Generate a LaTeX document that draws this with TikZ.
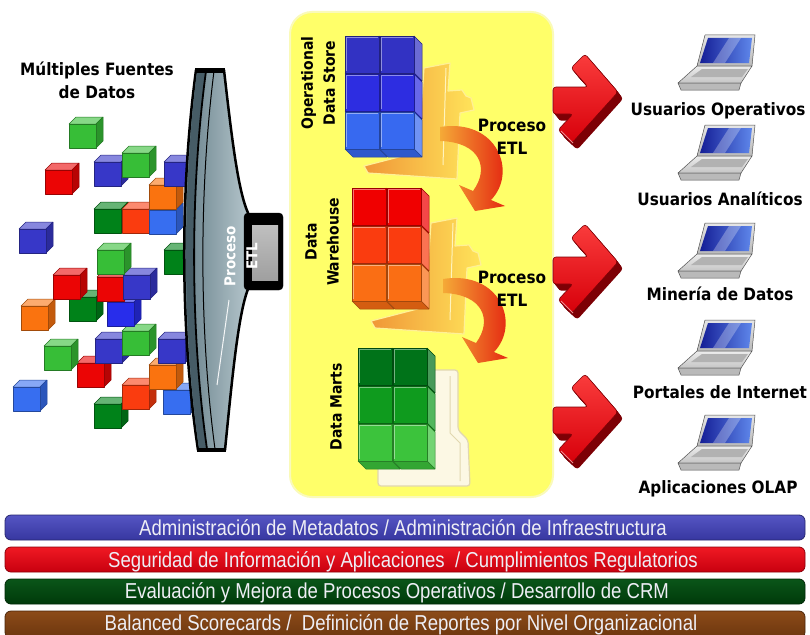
\documentclass[tikz,border=0pt]{standalone}
\usepackage{fontspec}
\newfontfamily\lblfont[FakeStretch=0.9]{DejaVu Sans}
\newfontfamily\barfont[FakeStretch=0.86]{Liberation Sans}

% source cubes
\definecolor{cgreen}{RGB}{55,190,55}
\definecolor{cdkgreen}{RGB}{0,130,25}
\definecolor{cred}{RGB}{235,5,5}
\definecolor{credor}{RGB}{250,60,15}
\definecolor{corange}{RGB}{250,115,15}
\definecolor{cblue}{RGB}{55,55,200}
\definecolor{cltblue}{RGB}{55,110,240}
\definecolor{cbrblue}{RGB}{40,45,235}
% stacked stores
\definecolor{odsA}{RGB}{50,50,195}
\definecolor{odsB}{RGB}{45,45,225}
\definecolor{odsC}{RGB}{55,105,240}
\definecolor{dwA}{RGB}{240,0,0}
\definecolor{dwB}{RGB}{250,60,15}
\definecolor{dwC}{RGB}{250,110,20}
\definecolor{dmA}{RGB}{0,115,25}
\definecolor{dmB}{RGB}{15,155,30}
\definecolor{dmC}{RGB}{60,195,60}
% panel, funnel, folders
\definecolor{panelyellow}{RGB}{255,255,105}
\definecolor{paneledge}{RGB}{250,250,185}
\definecolor{funnelA}{RGB}{100,125,135}
\definecolor{funnelB}{RGB}{180,197,203}
\definecolor{funnelC}{RGB}{70,92,102}
\definecolor{foldL}{RGB}{240,150,55}
\definecolor{foldR}{RGB}{255,228,90}
\definecolor{foldedge}{RGB}{255,240,150}
\definecolor{cream}{RGB}{252,248,228}
\definecolor{creamedge}{RGB}{225,215,175}
\definecolor{arcL}{RGB}{245,170,55}
\definecolor{arcR}{RGB}{225,15,10}
% big arrows
\definecolor{arrowred}{RGB}{215,0,10}
\definecolor{arrowdark}{RGB}{125,0,5}
\definecolor{arrowlight}{RGB}{250,60,60}
% bars
\definecolor{barblueT}{RGB}{85,85,195}
\definecolor{barblueB}{RGB}{55,55,160}
\definecolor{barredT}{RGB}{240,25,35}
\definecolor{barredB}{RGB}{200,0,15}
\definecolor{bargreenT}{RGB}{10,85,25}
\definecolor{bargreenB}{RGB}{0,58,10}
\definecolor{barbrownT}{RGB}{140,75,25}
\definecolor{barbrownB}{RGB}{108,54,14}
\definecolor{bartext}{RGB}{238,238,245}
% laptops
\definecolor{screenA}{RGB}{20,30,150}
\definecolor{screenB}{RGB}{95,135,235}

\tikzset{
  cubeedge/.style={draw=#1!65!black, line width=0.5pt, line join=round},
  lbl/.style={font=\lblfont\bfseries\fontsize{17}{23}\selectfont, align=center, inner sep=0pt, text=black},
  vlbl/.style={font=\lblfont\bfseries\fontsize{15.5}{22}\selectfont, align=center, inner sep=0pt, rotate=90, text=black},
  funtxt/.style={font=\lblfont\bfseries\fontsize{15}{22}\selectfont, align=center, inner sep=0pt, rotate=90, text=white},
  barbox/.style={rounded corners=6, line width=0.8pt},
  bartxt/.style={text=bartext, font=\barfont\fontsize{21.6}{23}\selectfont, inner sep=0pt, anchor=base},
  folderstyle/.style={left color=foldL, right color=foldR, draw=foldedge, line width=1.2pt, line join=round},
  arcstyle/.style={left color=arcL, right color=arcR},
}

% one scattered source cube: top-left corner of its outline at (#1,#2)
\newcommand{\srccube}[3]{%
  \filldraw[cubeedge=#3, fill=#3!60!white] (#1,#2+7) -- (#1+7,#2) -- (#1+34,#2) -- (#1+27,#2+7) -- cycle;
  \filldraw[cubeedge=#3, fill=#3!78!black] (#1+27,#2+7) -- (#1+34,#2) -- (#1+34,#2+24) -- (#1+27,#2+31) -- cycle;
  \filldraw[cubeedge=#3, fill=#3] (#1,#2+7) rectangle (#1+27,#2+31);
}

% a 2x3 block of cubes, one colour per row
\newcommand{\stackcubes}[5]{%
  \foreach \c [count=\j from 0] in {#3,#4,#5}{%
    \foreach \i in {0,1}{%
      \filldraw[cubeedge=\c, fill=\c!72!white] (#1+35*\i+34,#2+38*\j) -- (#1+35*\i+42,#2+38*\j+8) -- (#1+35*\i+42,#2+38*\j+45) -- (#1+35*\i+34,#2+38*\j+37) -- cycle;
      \filldraw[cubeedge=\c, fill=\c!85!black] (#1+35*\i,#2+38*\j+37) -- (#1+35*\i+34,#2+38*\j+37) -- (#1+35*\i+42,#2+38*\j+45) -- (#1+35*\i+8,#2+38*\j+45) -- cycle;
    }
  }
  \foreach \c [count=\j from 0] in {#3,#4,#5}{%
    \foreach \i in {0,1}{%
      \filldraw[cubeedge=\c, fill=\c] (#1+35*\i,#2+38*\j) rectangle ++(34,37);
      \draw[\c!55!white, line width=1pt] (#1+35*\i+1.5,#2+38*\j+35) -- (#1+35*\i+1.5,#2+38*\j+1.5) -- (#1+35*\i+32.5,#2+38*\j+1.5);
    }
  }
}

% open folder behind a block
\newcommand{\folder}{%
  \shadedraw[folderstyle] (364,166) -- (418,152) -- (424,68) -- (450,63) -- (448,91) -- (462,90) -- (466,96) -- (471,98) -- (474,110) -- (460,113) -- (457,179) -- (368,173) -- cycle;
  \draw[white!60!foldR, line width=1pt] (446,68) -- (443,165);
}

% curved ETL arrow
\newcommand{\etlarc}{%
  \shade[arcstyle] (440,127) .. controls (497,118) and (518,172) .. (491,200) -- (505,206) -- (475,211) -- (459,185) -- (473,191) .. controls (490,168) and (480,142) .. (440,141) -- cycle;
}

% big 3D arrow, tip at (#1,#2)
\newcommand{\bigarrow}[2]{%
  \begin{scope}[shift={(#1,#2)}]
    \foreach \t in {1,...,7}{%
      \fill[arrowdark, rounded corners=3, shift={(0.75*\t,0.95*\t)}] (0,0) -- (-46,51) -- (-60,38) -- (-45,22) -- (-65,22) -- (-65,-5) -- (-30,-5) -- (-47,-24) -- (-33,-38) -- cycle;
    }
    \shadedraw[top color=arrowlight, bottom color=arrowred, draw=arrowdark, line width=0.6pt, rounded corners=3] (0,0) -- (-46,51) -- (-60,38) -- (-45,22) -- (-65,22) -- (-65,-5) -- (-30,-5) -- (-47,-24) -- (-33,-38) -- cycle;
    \draw[white!55!arrowred, line width=0.8pt] (-57,39) -- (-45,51);
  \end{scope}
}

% laptop, centre x and top y
\newcommand{\laptop}[2]{%
  \begin{scope}[shift={(#1,#2)}]
    \shadedraw[top color=gray!20, bottom color=gray!55, draw=gray!65!black, line width=0.5pt, line join=round] (-12,2) -- (38,2) -- (35,33) -- (-20,33) -- cycle;
    \shade[left color=screenA, right color=screenB] (-9,5) -- (35,5) -- (32,30) -- (-17,30) -- cycle;
    \fill[white, opacity=0.28] (12,5) -- (24,5) -- (8,30) -- (-4,30) -- cycle;
    \shadedraw[top color=gray!15, bottom color=gray!45, draw=gray!65!black, line width=0.5pt, line join=round] (-20,33) -- (35,33) -- (24,50) -- (-39,50) -- cycle;
    \fill[gray!60] (-15,36) -- (31,36) -- (25,44) -- (-26,44) -- cycle;
    \filldraw[fill=gray!55, draw=gray!65!black, line width=0.5pt] (-39,50) -- (24,50) -- (22,57) -- (-36,57) -- cycle;
  \end{scope}
}

\begin{document}
\begin{tikzpicture}[x=1pt,y=-1pt]
\useasboundingbox (0,0) rectangle (810,634);
\clip (0,0) rectangle (810,634);
\fill[white] (0,0) rectangle (810,634);

% ---------- data sources ----------
\node[lbl] (sources) at (97,80) {Múltiples Fuentes\\de Datos};

\srccube{69}{117}{cgreen}
\srccube{94}{155}{cblue}
\srccube{122}{146}{cgreen}
\srccube{45}{163}{cred}
\srccube{94}{202}{cdkgreen}
\srccube{122}{202}{credor}
\srccube{149}{203}{cltblue}
\srccube{149}{178}{corange}
\srccube{164}{155}{cblue}
\srccube{19}{222}{cblue}
\srccube{94}{397}{cdkgreen}
\srccube{163}{383}{cltblue}
\srccube{13}{380}{cltblue}
\srccube{122}{378}{credor}
\srccube{149}{358}{corange}
\srccube{77}{356}{cred}
\srccube{44}{339}{cgreen}
\srccube{158}{332}{cblue}
\srccube{95}{332}{cblue}
\srccube{122}{324}{cgreen}
\srccube{21}{299}{corange}
\srccube{107}{295}{cbrblue}
\srccube{69}{290}{cdkgreen}
\srccube{53}{268}{cred}
\srccube{97}{270}{cred}
\srccube{123}{268}{cblue}
\srccube{97}{243}{cgreen}
\srccube{164}{243}{cdkgreen}

% ---------- ETL funnel ----------
\shadedraw[left color=funnelA, right color=funnelB, draw=black, line width=2.5pt, line join=round]
  (196,70) -- (224,70) .. controls (232,140) and (238,190) .. (248,213) -- (248,289)
  .. controls (238,315) and (232,380) .. (225,450) -- (198,450)
  .. controls (180,330) and (180,190) .. (196,70) -- cycle;
\fill[funnelC] (197,71) -- (206,71) .. controls (190,190) and (190,330) .. (207,449) -- (199,449)
  .. controls (182,330) and (182,190) .. (197,71) -- cycle;
\draw[black, line width=1.8pt] (206,71) .. controls (190,190) and (190,330) .. (207,449);
\draw[black, line width=1pt] (214,71) .. controls (199,190) and (199,330) .. (215,449);
\draw[white!85!funnelB, line width=1pt] (229,300) -- (217,385);
\draw[black, line width=5pt] (195,70) -- (225,70);
\draw[black, line width=4pt] (197,450) -- (226,450);
\filldraw[black, rounded corners=4] (244,213) rectangle (283,290);
\shade[top color=gray!50, middle color=gray!35, bottom color=gray!75] (252,225) rectangle (278,280);
\node[funtxt] (etl0) at (241,256) {Proceso\\ETL};

% ---------- storage panel ----------
\filldraw[fill=panelyellow, draw=paneledge, line width=2pt, rounded corners=22] (290,12) rectangle (553,497);

\folder
\begin{scope}[shift={(7,155)}]\folder\end{scope}
\filldraw[fill=cream, draw=creamedge, line width=1.2pt, rounded corners=3]
  (378,370) -- (458,370) -- (458,430) -- (468,440) -- (470,486) -- (378,486) -- cycle;
\draw[creamedge, line width=1pt] (450,376) -- (450,433) -- (460,443) -- (460,481);

\etlarc
\begin{scope}[shift={(3,152)}]\etlarc\end{scope}

\stackcubes{345}{36}{odsA}{odsB}{odsC}
\stackcubes{352}{188}{dwA}{dwB}{dwC}
\stackcubes{358}{348}{dmA}{dmB}{dmC}

\node[vlbl] (ods) at (318,83) {Operational\\Data Store};
\node[vlbl] (dw) at (322,242) {Data\\Warehouse};
\node[vlbl] (dm) at (336,407) {Data Marts};
\node[lbl] (etl1) at (512,137) {Proceso\\ETL};
\node[lbl] (etl2) at (512,289) {Proceso\\ETL};

% ---------- delivery arrows ----------
\bigarrow{618}{92}
\bigarrow{618}{262}
\bigarrow{618}{412}

% ---------- consumers ----------
\laptop{717}{33}
\laptop{717}{123}
\laptop{717}{221}
\laptop{717}{318}
\laptop{717}{413}
\node[lbl, anchor=base] (u1) at (718,115) {Usuarios Operativos};
\node[lbl, anchor=base] (u2) at (720,205) {Usuarios Analíticos};
\node[lbl, anchor=base] (u3) at (720,300) {Minería de Datos};
\node[lbl, anchor=base] (u4) at (720,398) {Portales de Internet};
\node[lbl, anchor=base] (u5) at (718,493) {Aplicaciones OLAP};

% ---------- cross-cutting bars ----------
\shadedraw[barbox, top color=barblueT, bottom color=barblueB, draw=barblueB!70!black] (5,515) rectangle (805,540);
\shadedraw[barbox, top color=barredT, bottom color=barredB, draw=barredB!70!black] (5,547) rectangle (805,572);
\shadedraw[barbox, top color=bargreenT, bottom color=bargreenB, draw=bargreenB!70!black] (5,579) rectangle (805,604);
\shadedraw[barbox, top color=barbrownT, bottom color=barbrownB, draw=barbrownB!70!black] (5,611) rectangle (805,638);
\node[bartxt] (bar1) at (403,535) {Administración de Metadatos / Administración de Infraestructura};
\node[bartxt] (bar2) at (403,567) {Seguridad de Información y Aplicaciones ~/ Cumplimientos Regulatorios};
\node[bartxt] (bar3) at (397,598) {Evaluación y Mejora de Procesos Operativos / Desarrollo de CRM};
\node[bartxt] (bar4) at (401,630) {Balanced Scorecards / ~Definición de Reportes por Nivel Organizacional};
\end{tikzpicture}
\end{document}
